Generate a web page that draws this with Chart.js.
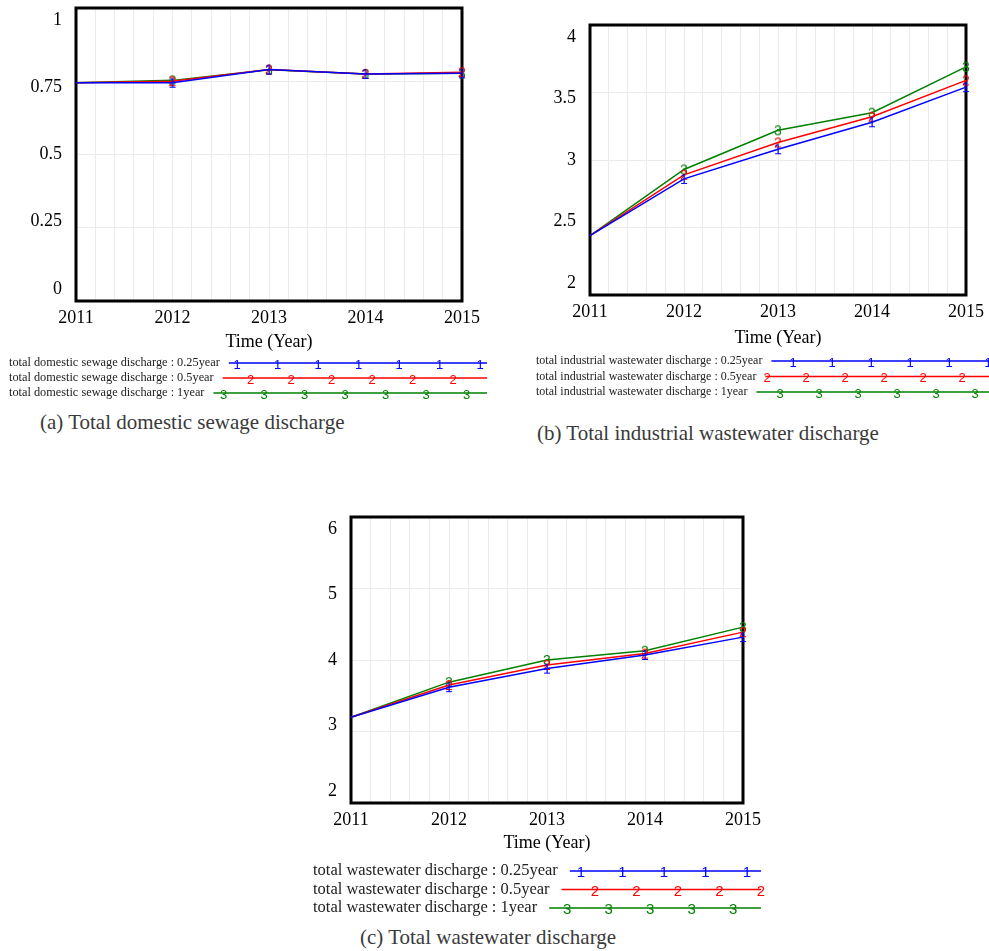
<!DOCTYPE html>
<html>
<head>
<meta charset="utf-8">
<script src="https://cdn.jsdelivr.net/npm/chart.js@4/dist/chart.umd.min.js"></script>
<style>
  body { margin: 0; background: #fff; width: 989px; height: 951px; position: relative; overflow: hidden; font-family: 'Liberation Serif', 'Times New Roman', serif; }
  .panel { position: absolute; }
  .caption { position: absolute; font-size: 21px; line-height: 24px; color: #3a3a3a; white-space: nowrap; }
</style>
</head>
<body>
<div class="panel" style="left:0;top:0;width:500px;height:410px"><canvas id="chartA"></canvas></div>
<div class="panel" style="left:520px;top:0;width:469px;height:410px"><canvas id="chartB"></canvas></div>
<div class="panel" style="left:290px;top:500px;width:500px;height:420px"><canvas id="chartC"></canvas></div>
<div class="caption" style="left:40px;top:410px">(a) Total domestic sewage discharge</div>
<div class="caption" style="left:537px;top:421px">(b) Total industrial wastewater discharge</div>
<div class="caption" style="left:360px;top:925px">(c) Total wastewater discharge</div>
<script>
// data
var years = [2011, 2012, 2013, 2014, 2015];
var seriesColors = ["#0000ff", "#ff0000", "#008000"];
var seriesTags = ["1", "2", "3"];

var domesticNames = ["total domestic sewage discharge : 0.25year", "total domestic sewage discharge : 0.5year", "total domestic sewage discharge : 1year"];
var domestic025 = [0.745, 0.745, 0.790, 0.775, 0.777];
var domestic05 = [0.745, 0.750, 0.790, 0.775, 0.781];
var domestic1 = [0.745, 0.753, 0.789, 0.775, 0.777];
var domesticTicks = [0, 0.25, 0.5, 0.75, 1];

var industrialNames = ["total industrial wastewater discharge : 0.25year", "total industrial wastewater discharge : 0.5year", "total industrial wastewater discharge : 1year"];
var industrial025 = [2.44, 2.86, 3.08, 3.28, 3.54];
var industrial05 = [2.44, 2.89, 3.13, 3.32, 3.59];
var industrial1 = [2.44, 2.93, 3.22, 3.35, 3.69];
var industrialTicks = [2, 2.5, 3, 3.5, 4];

var totalNames = ["total wastewater discharge : 0.25year", "total wastewater discharge : 0.5year", "total wastewater discharge : 1year"];
var total025 = [3.20, 3.62, 3.88, 4.07, 4.32];
var total05 = [3.20, 3.65, 3.93, 4.09, 4.39];
var total1 = [3.20, 3.69, 4.00, 4.13, 4.46];
var totalTicks = [2, 3, 4, 5, 6];

var serif = "'Liberation Serif', 'Times New Roman', serif";
var sans = "'Liberation Sans', Arial, sans-serif";

function digitImage(tag, color) {
  var c = document.createElement("canvas");
  c.width = 14;
  c.height = 24;
  var g = c.getContext("2d");
  g.fillStyle = color;
  g.font = "14px " + sans;
  g.textAlign = "center";
  g.textBaseline = "middle";
  g.fillText(tag, 7, 13);
  return c;
}

// thick black frame round the plot
var framePlugin = {
  id: "frame",
  beforeDatasetsDraw: function(chart) {
    var a = chart.chartArea, ctx = chart.ctx;
    ctx.save();
    ctx.strokeStyle = "#000";
    ctx.lineWidth = 3;
    ctx.strokeRect(a.left, a.top, a.right - a.left, a.bottom - a.top);
    ctx.restore();
  }
};

// Vensim style legend rows: name, then a line with the series number repeated
function rowLegend(lg) {
  return {
    id: "rowLegend",
    afterDraw: function(chart) {
      var ctx = chart.ctx;
      ctx.save();
      chart.data.datasets.forEach(function(ds, i) {
        var y = lg.top + i * lg.step;
        ctx.font = lg.fontSize + "px " + serif;
        ctx.fillStyle = "#222";
        ctx.textAlign = "left";
        ctx.textBaseline = "middle";
        ctx.fillText(ds.label, lg.left, y);
        var start = lg.left + ctx.measureText(ds.label).width + lg.gap;
        ctx.strokeStyle = ds.borderColor;
        ctx.lineWidth = 1.5;
        ctx.beginPath();
        ctx.moveTo(start, y);
        ctx.lineTo(lg.end, y);
        ctx.stroke();
        ctx.font = lg.digitSize + "px " + sans;
        ctx.fillStyle = ds.borderColor;
        ctx.textAlign = "center";
        var x = lg.first + i * lg.spacing / 3;
        while (x - lg.spacing >= start - 2) x -= lg.spacing;
        for (; x <= lg.end + 1; x += lg.spacing) {
          ctx.fillText(seriesTags[i], x, y + 2);
        }
      });
      ctx.restore();
    }
  };
}

function makeChart(id, names, values, ticks, geo, lg) {
  var plotH = geo.height - geo.top - geo.padBottom - geo.xHeight;
  var ppu = (plotH - 2 * geo.inset) / (ticks[ticks.length - 1] - ticks[0]);
  var labelMin = ticks[0] - geo.inset / ppu;
  var labelMax = ticks[ticks.length - 1] + geo.inset / ppu;

  var datasets = values.map(function(vals, i) {
    return {
      label: names[i],
      data: years.map(function(yr, j) { return { x: yr, y: vals[j] }; }),
      borderColor: seriesColors[i],
      backgroundColor: seriesColors[i],
      borderWidth: 1.5,
      pointStyle: digitImage(seriesTags[i], seriesColors[i]),
      pointRadius: function(c) { return c.dataIndex === 0 ? 0 : 6; },
      tension: 0,
      fill: false,
      clip: false
    };
  });

  return new Chart(document.getElementById(id), {
    type: "line",
    data: { datasets: datasets },
    options: {
      responsive: true,
      maintainAspectRatio: false,
      animation: false,
      events: [],
      layout: { padding: { left: 0, right: geo.right, top: geo.top, bottom: geo.padBottom } },
      plugins: { legend: { display: false }, tooltip: { enabled: false } },
      scales: {
        x: {
          type: "linear",
          min: years[0],
          max: years[years.length - 1],
          border: { display: false },
          grid: { color: "#ebebeb", drawTicks: false },
          ticks: {
            stepSize: 0.2,
            autoSkip: false,
            maxRotation: 0,
            padding: 6,
            color: "#000",
            font: { family: serif, size: 18 },
            callback: function(v) {
              return Math.abs(v - Math.round(v)) < 1e-6 ? String(Math.round(v)) : "";
            }
          },
          title: { display: true, text: "Time (Year)", color: "#000", font: { family: serif, size: 18 }, padding: 0 },
          afterFit: function(axis) {
            axis.height = geo.xHeight;
            axis.paddingLeft = 0;
            axis.paddingRight = 0;
          }
        },
        y: {
          position: "left",
          min: ticks[0],
          max: ticks[ticks.length - 1],
          border: { display: false },
          grid: { color: "#ebebeb", drawTicks: false },
          ticks: { display: false, stepSize: ticks[1] - ticks[0] },
          afterFit: function(axis) {
            axis.width = 0;
            axis.paddingTop = 0;
            axis.paddingBottom = 0;
          }
        },
        yl: {
          position: "left",
          min: labelMin,
          max: labelMax,
          border: { display: false },
          grid: { display: false, drawTicks: false },
          ticks: {
            padding: 14,
            color: "#000",
            font: { family: serif, size: 18 },
            callback: function(v) { return String(v); }
          },
          afterBuildTicks: function(axis) {
            axis.ticks = ticks.map(function(v) { return { value: v }; });
          },
          afterFit: function(axis) {
            axis.width = geo.left;
            axis.paddingTop = 0;
            axis.paddingBottom = 0;
          }
        }
      }
    },
    plugins: [framePlugin, rowLegend(lg)]
  });
}

makeChart("chartA", domesticNames, [domestic025, domestic05, domestic1], domesticTicks,
  { height: 410, left: 76, right: 38, top: 8, padBottom: 57, xHeight: 52, inset: 12 },
  { left: 9, top: 363, step: 15, fontSize: 12.3, digitSize: 13, gap: 9, end: 487, first: 237, spacing: 40.5 });

makeChart("chartB", industrialNames, [industrial025, industrial05, industrial1], industrialTicks,
  { height: 410, left: 70, right: 23, top: 25, padBottom: 61, xHeight: 54, inset: 12 },
  { left: 16, top: 361, step: 15.5, fontSize: 12, digitSize: 13, gap: 9, end: 480, first: 273, spacing: 39 });

makeChart("chartC", totalNames, [total025, total05, total1], totalTicks,
  { height: 420, left: 61, right: 47, top: 17, padBottom: 66, xHeight: 51, inset: 12 },
  { left: 23, top: 371, step: 18.5, fontSize: 16.5, digitSize: 15, gap: 12, end: 471, first: 291, spacing: 41.5 });
</script>
</body>
</html>
